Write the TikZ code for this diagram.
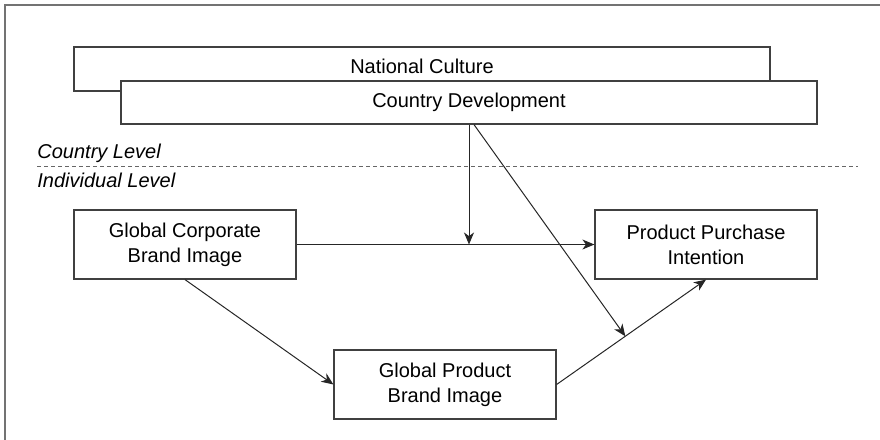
\documentclass[tikz,border=0pt]{standalone}
\usepackage{fontspec}
\setmainfont{Liberation Sans}
\usetikzlibrary{positioning,calc,arrows.meta}
\tikzset{
  band/.style={draw=black!75, fill=white, line width=0.6pt, minimum width=348pt, minimum height=21.5pt, inner sep=0pt},
  box/.style={draw=black!75, fill=white, line width=0.6pt, minimum width=111pt, minimum height=34.5pt, align=center, inner sep=2pt, font=\fontsize{10}{12.5}\selectfont},
  link/.style={color=black!85, line width=0.5pt, -{Stealth[length=6pt,width=5pt,inset=1.8pt]}},
  level/.style={anchor=base west, inner sep=0pt, font=\itshape},
  divider/.style={draw=black!60, line width=0.5pt, dash pattern=on 2pt off 1.5pt},
}
\begin{document}
\begin{tikzpicture}[x=0.5pt,y=-0.5pt]
  \useasboundingbox (0,0) rectangle (880,440);
  \draw[black!55, line width=1pt] (880,5) -- (5,5) -- (5,440);
  % country level
  \node[band, minimum height=22pt, text height=10pt, text depth=6pt, inner ysep=3pt] (culture) at (422,69) {National Culture};
  \node[band] (dev) at (469,102.5) {Country Development};
  \node[level] (country) at (37,158) {Country Level};
  \node[level] (indiv) at (37,187) {Individual Level};
  \draw[divider] (37,166) -- (858,166);
  % individual level
  \node[box] (cbi) at (185,244.5) {Global Corporate\\Brand Image};
  \node[box] (ppi) [right of=cbi, node distance=260.5pt] {Product Purchase\\Intention};
  \node[box] (pbi) at (445,384.5) {Global Product\\Brand Image};
  \coordinate (hit) at (cbi.east -| dev.south);
  \coordinate (joint) at ($(pbi.east)!0.46!(ppi.south)$);
  \path[link] (cbi) edge (ppi)
              (dev.south) edge (hit)
              ([xshift=2.5pt]dev.south) edge (joint)
              (cbi.south) edge (pbi.west)
              (pbi.east) edge (ppi.south)
              ;
\end{tikzpicture}
\end{document}
